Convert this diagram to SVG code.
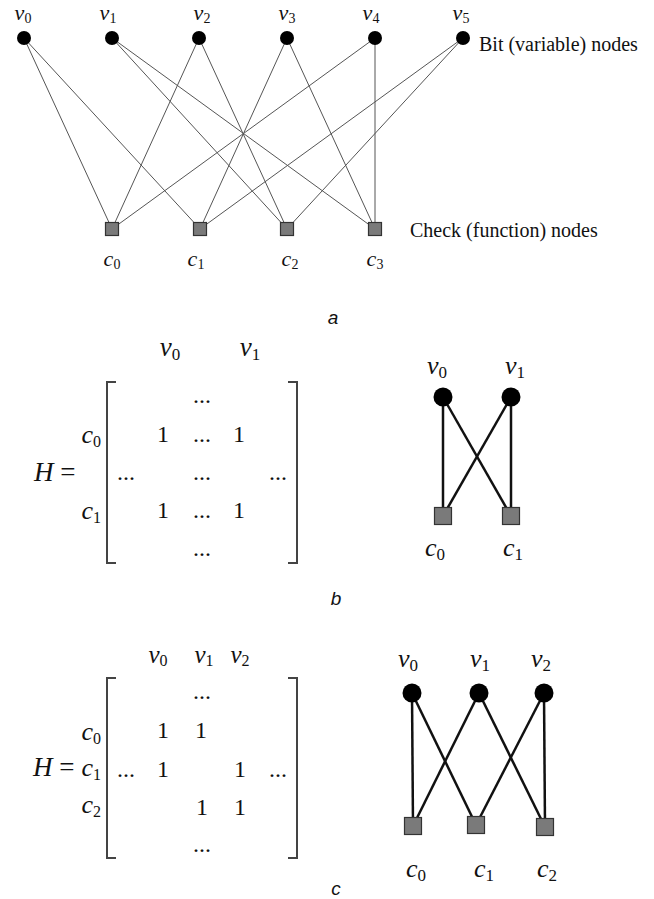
<svg xmlns="http://www.w3.org/2000/svg" width="654" height="899" viewBox="0 0 654 899">
<style>
.bg{fill:#fff}
.thin{stroke:#555;stroke-width:1;fill:none}
.thick{stroke:#111;stroke-width:2.5;fill:none}
.bit{fill:#000}
.chk{fill:#7a7a7a;stroke:#333;stroke-width:1.2}
.var{font-family:"Liberation Serif","DejaVu Serif",serif;font-style:italic;fill:#111}
.txt{font-family:"Liberation Serif","DejaVu Serif",serif;fill:#111}
.sub{font-style:normal}
.cap{font-family:"Liberation Sans",Arial,sans-serif;font-style:italic;font-size:19px;fill:#111}
.mat{font-family:"Liberation Serif","DejaVu Serif",serif;font-size:24px;fill:#111;text-anchor:middle}
.brk{stroke:#444;stroke-width:2;fill:none}
</style>
<rect class="bg" x="0" y="0" width="654" height="899"/>

<!-- Part a -->
<g id="edges-a">
<line class="thin" x1="24" y1="38" x2="112" y2="229"/>
<line class="thin" x1="24" y1="38" x2="200" y2="229"/>
<line class="thin" x1="112" y1="38" x2="287" y2="229"/>
<line class="thin" x1="112" y1="38" x2="375" y2="229"/>
<line class="thin" x1="199" y1="38" x2="112" y2="229"/>
<line class="thin" x1="199" y1="38" x2="287" y2="229"/>
<line class="thin" x1="287" y1="38" x2="200" y2="229"/>
<line class="thin" x1="287" y1="38" x2="375" y2="229"/>
<line class="thin" x1="375" y1="38" x2="112" y2="229"/>
<line class="thin" x1="375" y1="38" x2="375" y2="229"/>
<line class="thin" x1="463" y1="38" x2="200" y2="229"/>
<line class="thin" x1="463" y1="38" x2="287" y2="229"/>
</g>
<g id="a-v0"><circle class="bit" cx="24" cy="38" r="7"/><text class="var" x="23" y="20" font-size="22" text-anchor="middle">v<tspan class="sub" font-size="14" dy="3">0</tspan></text></g>
<g id="a-v1"><circle class="bit" cx="112" cy="38" r="7"/><text class="var" x="108" y="20" font-size="22" text-anchor="middle">v<tspan class="sub" font-size="14" dy="3">1</tspan></text></g>
<g id="a-v2"><circle class="bit" cx="199" cy="38" r="7"/><text class="var" x="202" y="20" font-size="22" text-anchor="middle">v<tspan class="sub" font-size="14" dy="3">2</tspan></text></g>
<g id="a-v3"><circle class="bit" cx="287" cy="38" r="7"/><text class="var" x="287" y="20" font-size="22" text-anchor="middle">v<tspan class="sub" font-size="14" dy="3">3</tspan></text></g>
<g id="a-v4"><circle class="bit" cx="375" cy="38" r="7"/><text class="var" x="371" y="20" font-size="22" text-anchor="middle">v<tspan class="sub" font-size="14" dy="3">4</tspan></text></g>
<g id="a-v5"><circle class="bit" cx="463" cy="38" r="7"/><text class="var" x="461" y="20" font-size="22" text-anchor="middle">v<tspan class="sub" font-size="14" dy="3">5</tspan></text></g>
<g id="a-c0"><rect class="chk" x="105.5" y="222.5" width="13" height="13"/><text class="var" x="112" y="266" font-size="22" text-anchor="middle">c<tspan class="sub" font-size="14" dy="3">0</tspan></text></g>
<g id="a-c1"><rect class="chk" x="193.5" y="222.5" width="13" height="13"/><text class="var" x="196" y="266" font-size="22" text-anchor="middle">c<tspan class="sub" font-size="14" dy="3">1</tspan></text></g>
<g id="a-c2"><rect class="chk" x="280.5" y="222.5" width="13" height="13"/><text class="var" x="290" y="266" font-size="22" text-anchor="middle">c<tspan class="sub" font-size="14" dy="3">2</tspan></text></g>
<g id="a-c3"><rect class="chk" x="368.5" y="222.5" width="13" height="13"/><text class="var" x="375" y="266" font-size="22" text-anchor="middle">c<tspan class="sub" font-size="14" dy="3">3</tspan></text></g>
<g id="a-labels">
<text class="txt" x="479" y="51" font-size="20">Bit (variable)  nodes</text>
<text class="txt" x="410" y="237" font-size="20">Check (function) nodes</text>
<text class="cap" x="333" y="324" text-anchor="middle">a</text>
</g>

<!-- Part b matrix -->
<g id="b-matrix">
<text class="var" x="170" y="356" font-size="27" text-anchor="middle">v<tspan class="sub" font-size="17" dy="4">0</tspan></text>
<text class="var" x="250" y="356" font-size="27" text-anchor="middle">v<tspan class="sub" font-size="17" dy="4">1</tspan></text>
<path class="brk" d="M116,382 H107 V563 H116"/>
<path class="brk" d="M288,382 H297 V563 H288"/>
<text class="mat" x="202" y="403">...</text>
<text class="mat" x="163" y="442">1</text><text class="mat" x="202" y="442">...</text><text class="mat" x="239" y="442">1</text>
<text class="mat" x="126" y="480">...</text><text class="mat" x="202" y="480">...</text><text class="mat" x="278" y="480">...</text>
<text class="mat" x="163" y="518">1</text><text class="mat" x="202" y="518">...</text><text class="mat" x="239" y="518">1</text>
<text class="mat" x="202" y="556">...</text>
<text class="var" x="101" y="443" font-size="26" text-anchor="end">c<tspan class="sub" font-size="16" dy="4">0</tspan></text>
<text class="var" x="101" y="519" font-size="26" text-anchor="end">c<tspan class="sub" font-size="16" dy="4">1</tspan></text>
<text class="var" x="34" y="481" font-size="27">H <tspan font-style="normal">=</tspan></text>
</g>

<!-- Part b graph -->
<g id="edges-b">
<line class="thick" x1="443" y1="397" x2="443" y2="516"/>
<line class="thick" x1="443" y1="397" x2="511" y2="516"/>
<line class="thick" x1="511" y1="397" x2="443" y2="516"/>
<line class="thick" x1="511" y1="397" x2="511" y2="516"/>
</g>
<g id="b-v0"><circle class="bit" cx="443" cy="397" r="9.5"/><text class="var" x="437" y="374" font-size="26" text-anchor="middle">v<tspan class="sub" font-size="17" dy="4">0</tspan></text></g>
<g id="b-v1"><circle class="bit" cx="511" cy="397" r="9.5"/><text class="var" x="515" y="374" font-size="26" text-anchor="middle">v<tspan class="sub" font-size="17" dy="4">1</tspan></text></g>
<g id="b-c0"><rect class="chk" x="434.5" y="507.5" width="17" height="17"/><text class="var" x="435" y="556" font-size="26" text-anchor="middle">c<tspan class="sub" font-size="17" dy="4">0</tspan></text></g>
<g id="b-c1"><rect class="chk" x="502.5" y="507.5" width="17" height="17"/><text class="var" x="513" y="556" font-size="26" text-anchor="middle">c<tspan class="sub" font-size="17" dy="4">1</tspan></text></g>
<text class="cap" x="336" y="605" text-anchor="middle">b</text>

<!-- Part c matrix -->
<g id="c-matrix">
<text class="var" x="158" y="663" font-size="25" text-anchor="middle">v<tspan class="sub" font-size="16" dy="3">0</tspan></text>
<text class="var" x="204" y="663" font-size="25" text-anchor="middle">v<tspan class="sub" font-size="16" dy="3">1</tspan></text>
<text class="var" x="240" y="663" font-size="25" text-anchor="middle">v<tspan class="sub" font-size="16" dy="3">2</tspan></text>
<path class="brk" d="M116,678 H107 V858 H116"/>
<path class="brk" d="M288,678 H297 V858 H288"/>
<text class="mat" x="202" y="699">...</text>
<text class="mat" x="163" y="738">1</text><text class="mat" x="201" y="738">1</text>
<text class="mat" x="126" y="777">...</text><text class="mat" x="163" y="777">1</text><text class="mat" x="240" y="777">1</text><text class="mat" x="278" y="777">...</text>
<text class="mat" x="202" y="815">1</text><text class="mat" x="240" y="815">1</text>
<text class="mat" x="202" y="852">...</text>
<text class="var" x="101" y="740" font-size="26" text-anchor="end">c<tspan class="sub" font-size="16" dy="4">0</tspan></text>
<text class="var" x="101" y="776" font-size="26" text-anchor="end">c<tspan class="sub" font-size="16" dy="4">1</tspan></text>
<text class="var" x="101" y="813" font-size="26" text-anchor="end">c<tspan class="sub" font-size="16" dy="4">2</tspan></text>
<text class="var" x="33" y="776" font-size="27">H <tspan font-style="normal">=</tspan></text>
</g>

<!-- Part c graph -->
<g id="edges-c">
<line class="thick" x1="412" y1="693" x2="413" y2="826"/>
<line class="thick" x1="412" y1="693" x2="476" y2="825"/>
<line class="thick" x1="479" y1="693" x2="413" y2="826"/>
<line class="thick" x1="479" y1="693" x2="545" y2="827"/>
<line class="thick" x1="544" y1="693" x2="476" y2="825"/>
<line class="thick" x1="544" y1="693" x2="545" y2="827"/>
</g>
<g id="c-v0"><circle class="bit" cx="412" cy="693" r="9.5"/><text class="var" x="408" y="667" font-size="26" text-anchor="middle">v<tspan class="sub" font-size="17" dy="4">0</tspan></text></g>
<g id="c-v1"><circle class="bit" cx="479" cy="693" r="9.5"/><text class="var" x="480" y="667" font-size="26" text-anchor="middle">v<tspan class="sub" font-size="17" dy="4">1</tspan></text></g>
<g id="c-v2"><circle class="bit" cx="544" cy="693" r="9.5"/><text class="var" x="541" y="667" font-size="26" text-anchor="middle">v<tspan class="sub" font-size="17" dy="4">2</tspan></text></g>
<g id="c-c0"><rect class="chk" x="404.5" y="817.5" width="17" height="17"/><text class="var" x="416" y="877" font-size="26" text-anchor="middle">c<tspan class="sub" font-size="17" dy="4">0</tspan></text></g>
<g id="c-c1"><rect class="chk" x="467.5" y="816.5" width="17" height="17"/><text class="var" x="484" y="877" font-size="26" text-anchor="middle">c<tspan class="sub" font-size="17" dy="4">1</tspan></text></g>
<g id="c-c2"><rect class="chk" x="536.5" y="818.5" width="17" height="17"/><text class="var" x="547" y="877" font-size="26" text-anchor="middle">c<tspan class="sub" font-size="17" dy="4">2</tspan></text></g>
<text class="cap" x="336" y="895" text-anchor="middle">c</text>
</svg>
